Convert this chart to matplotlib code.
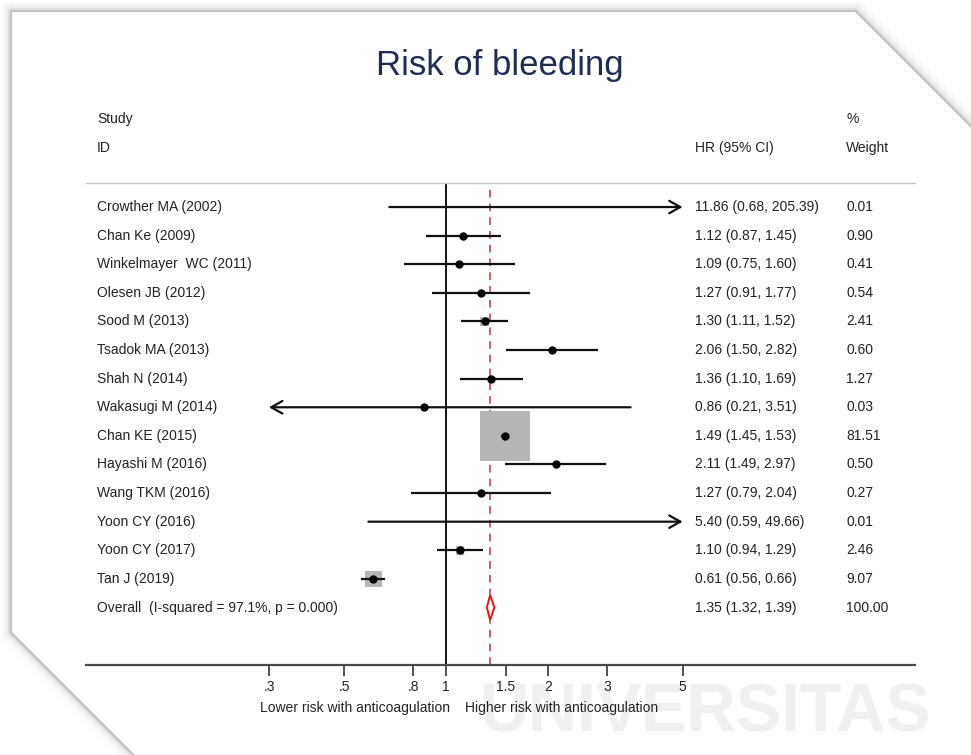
import numpy as np
import matplotlib
matplotlib.use("Agg")
import matplotlib.pyplot as plt
from matplotlib.patches import Polygon
from matplotlib.transforms import blended_transform_factory

plt.rcParams['font.family'] = ['Liberation Sans', 'DejaVu Sans']

studies = ["Crowther MA (2002)", "Chan Ke (2009)", "Winkelmayer  WC (2011)", "Olesen JB (2012)",
           "Sood M (2013)", "Tsadok MA (2013)", "Shah N (2014)", "Wakasugi M (2014)",
           "Chan KE (2015)", "Hayashi M (2016)", "Wang TKM (2016)", "Yoon CY (2016)",
           "Yoon CY (2017)", "Tan J (2019)"]
hr = [11.86, 1.12, 1.09, 1.27, 1.30, 2.06, 1.36, 0.86, 1.49, 2.11, 1.27, 5.40, 1.10, 0.61]
lo = [0.68, 0.87, 0.75, 0.91, 1.11, 1.50, 1.10, 0.21, 1.45, 1.49, 0.79, 0.59, 0.94, 0.56]
hi = [205.39, 1.45, 1.60, 1.77, 1.52, 2.82, 1.69, 3.51, 1.53, 2.97, 2.04, 49.66, 1.29, 0.66]
weights = [0.01, 0.90, 0.41, 0.54, 2.41, 0.60, 1.27, 0.03, 81.51, 0.50, 0.27, 0.01, 2.46, 9.07]

overall_label = "Overall  (I-squared = 97.1%, p = 0.000)"
overall_hr, overall_lo, overall_hi = 1.35, 1.32, 1.39
overall_weight = "100.00"

xticks = [0.3, 0.5, 0.8, 1, 1.5, 2, 3, 5]
xticklabels = [".3", ".5", ".8", "1", "1.5", "2", "3", "5"]

W, H = 971, 755
fig = plt.figure(figsize=(W / 100, H / 100), dpi=100)
fig.patch.set_facecolor("white")


def px(x, y):
    # pixel (top-left origin) -> figure fraction
    return (x / W, 1 - y / H)


# page outline with soft shadow
page = [px(12, 12), px(855, 12), px(971, 128), px(971, 755), px(135, 755), px(12, 632)]
for lw, a in [(16, 0.04), (10, 0.06), (6, 0.10), (3, 0.2)]:
    fig.patches.append(Polygon(page, closed=True, transform=fig.transFigure, fill=False,
                               edgecolor="#555555", lw=lw, alpha=a, joinstyle="round", zorder=0))
fig.patches.append(Polygon(page, closed=True, transform=fig.transFigure, facecolor="white",
                           edgecolor="none", zorder=0.5))

# faint watermark
fig.text(706 / W, 1 - 714 / H, "UNIVERSITAS", ha="center", va="center", fontsize=49,
         fontweight="bold", color="#f0f0f0", zorder=0.6)

fig.text(500 / W, 1 - 66 / H, "Risk of bleeding", ha="center", va="center",
         fontsize=25, color="#1f2d52")

ax = fig.add_axes([86 / W, 1 - 665 / H, 829 / W, 482 / H])
ax.set_zorder(2)
ax.set_facecolor("none")
ax.set_xscale("log")
xl = np.exp((86 - 446) / 147), np.exp((915 - 446) / 147)
ax.set_xlim(*xl)
ax.set_ylim(16.01, -0.84)

for s in ["left", "right"]:
    ax.spines[s].set_visible(False)
ax.spines["top"].set_color("#c4c4c4")
ax.spines["top"].set_linewidth(1.0)
ax.spines["bottom"].set_color("#4a4a4a")
ax.spines["bottom"].set_linewidth(1.6)
ax.set_yticks([])
ax.set_xticks(xticks)
ax.set_xticklabels(xticklabels)
ax.xaxis.set_minor_locator(matplotlib.ticker.NullLocator())
ax.tick_params(axis="x", length=8, width=1.2, color="#333333", labelsize=10,
               labelcolor="#222222", pad=3)

txt = dict(fontsize=10, color="#222222", va="center")
tr = blended_transform_factory(ax.transAxes, ax.transData)
col_lab, col_hr, col_w = (97 - 86) / 829, (695 - 86) / 829, (846 - 86) / 829

# headers
ax.text(col_lab, -3.08, "Study", transform=tr, clip_on=False, **txt)
ax.text(col_lab, -2.06, "ID", transform=tr, clip_on=False, **txt)
ax.text(col_hr, -2.06, "HR (95% CI)", transform=tr, clip_on=False, **txt)
ax.text(col_w, -3.08, "%", transform=tr, clip_on=False, **txt)
ax.text(col_w, -2.06, "Weight", transform=tr, clip_on=False, **txt)

ax.axvline(1, color="#111111", lw=1.4, zorder=1)
ax.axvline(overall_hr, ymin=0, ymax=0.995, color="#b23a4a", lw=1.1,
           dashes=(5, 4), zorder=1)

xmin, xmax = xticks[0], xticks[-1]
rows = np.arange(len(studies))
box_sizes = [15.9 * w for w in weights]
ax.scatter(hr, rows, s=box_sizes, marker="s", color="#b5b5b5", linewidths=0, zorder=2)

for i, (e, l, h) in enumerate(zip(hr, lo, hi)):
    left, right = max(l, xmin), min(h, xmax)
    arrow = dict(arrowstyle="->,head_length=0.8,head_width=0.45", lw=1.6, color="#111111",
                 shrinkA=0, shrinkB=0)
    if h > xmax:
        ax.annotate("", xy=(right, i), xytext=(left, i), arrowprops=arrow, zorder=3)
    elif l < xmin:
        ax.annotate("", xy=(left, i), xytext=(right, i), arrowprops=arrow, zorder=3)
    else:
        ax.plot([left, right], [i, i], color="#111111", lw=1.6, zorder=3, solid_capstyle="butt")
    if xmin <= e <= xmax:
        ax.plot(e, i, "o", color="#000000", ms=5, zorder=4)
    ax.text(col_lab, i, studies[i], transform=tr, **txt)
    ax.text(col_hr, i, f"{e:.2f} ({l:.2f}, {h:.2f})", transform=tr, **txt)
    ax.text(col_w, i, f"{weights[i]:.2f}", transform=tr, **txt)

yo = len(studies)
dh = 0.43
diamond = Polygon([(overall_lo, yo), (overall_hr, yo - dh), (overall_hi, yo), (overall_hr, yo + dh)],
                  closed=True, facecolor="white", edgecolor="#ee1111", lw=1.4, zorder=4)
ax.add_patch(diamond)
ax.text(col_lab, yo, overall_label, transform=tr, **txt)
ax.text(col_hr, yo, f"{overall_hr:.2f} ({overall_lo:.2f}, {overall_hi:.2f})", transform=tr, **txt)
ax.text(col_w, yo, overall_weight, transform=tr, **txt)

ax.text(1.03, 17.52, "Lower risk with anticoagulation", ha="right", va="center",
        fontsize=10, color="#222222", clip_on=False)
ax.text(1.14, 17.52, "Higher risk with anticoagulation", ha="left", va="center",
        fontsize=10, color="#222222", clip_on=False)

fig.savefig("out.png", dpi=100, facecolor="white")
